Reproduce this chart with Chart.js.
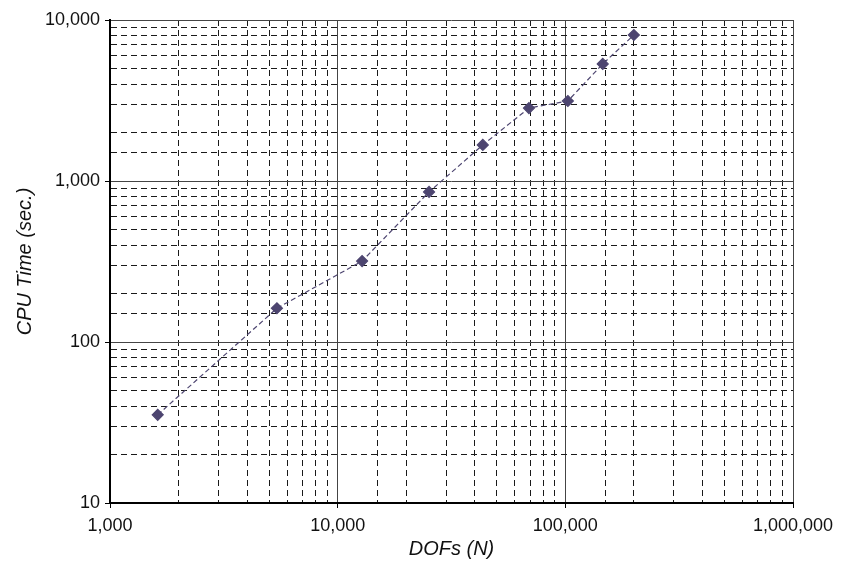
<!DOCTYPE html>
<html>
<head>
<meta charset="utf-8">
<script src="https://cdn.jsdelivr.net/npm/chart.js@4/dist/chart.umd.min.js"></script>
<style>
  body { margin: 0; background: #fff; }
</style>
</head>
<body>
<canvas id="cpuChart" width="854" height="561"></canvas>
<script>
// DOFs vs CPU time
const dofs = [1620, 5410, 12800, 25200, 43400, 69200, 102600, 146000, 200000];
const cpuTime = [35.3, 162, 318, 855, 1675, 2838, 3140, 5335, 8070];

const xRange = [1000, 1000000];
const yRange = [10, 10000];

const FONT = "'Liberation Sans', Arial, Helvetica, sans-serif";

function isDecade(v) {
  const l = Math.log10(v);
  return Math.abs(l - Math.round(l)) < 1e-9;
}

function fmt(v) {
  return isDecade(v) ? Number(v).toLocaleString("en-US") : "";
}

// dashed minor grid on the main axes, solid decade lines on hidden twin axes
const minorGrid = {
  color: (c) => (c.tick && isDecade(c.tick.value) ? "rgba(0,0,0,0)" : "#1a1a1a"),
  tickColor: (c) => (c.tick && isDecade(c.tick.value) ? "#000" : "rgba(0,0,0,0)"),
  lineWidth: 1,
  tickLength: 5,
};

const majorGrid = {
  color: (c) => (c.tick && isDecade(c.tick.value) ? "#444" : "rgba(0,0,0,0)"),
  lineWidth: 1,
  drawTicks: false,
};

const ctx = document.getElementById("cpuChart").getContext("2d");

new Chart(ctx, {
  type: "scatter",
  data: {
    datasets: [
      {
        data: dofs.map((d, i) => ({ x: d, y: cpuTime[i] })),
        showLine: true,
        borderColor: "#4d4570",
        borderWidth: 1.2,
        borderDash: [5, 3],
        pointStyle: "rectRot",
        pointRadius: 5.5,
        pointBackgroundColor: "#4d4570",
        pointBorderColor: "#4d4570",
        xAxisID: "x",
        yAxisID: "y",
      },
    ],
  },
  options: {
    responsive: false,
    animation: false,
    layout: { padding: { top: 20, left: 8, right: 61, bottom: 0 } },
    plugins: {
      legend: { display: false },
      tooltip: { enabled: false },
    },
    scales: {
      x: {
        type: "logarithmic",
        position: "bottom",
        min: xRange[0],
        max: xRange[1],
        grid: minorGrid,
        border: { display: true, color: "#000", width: 2, dash: [6, 4] },
        ticks: {
          autoSkip: false,
          maxRotation: 0,
          padding: 7,
          color: "#111",
          font: { family: FONT, size: 18 },
          callback: (v) => fmt(v),
        },
        title: {
          display: true,
          text: "DOFs (N)",
          color: "#111",
          font: { family: FONT, size: 20, style: "italic" },
          padding: { top: 0, bottom: 0 },
        },
        afterFit: (s) => { s.height = 58; },
      },
      x2: {
        type: "logarithmic",
        position: "bottom",
        min: xRange[0],
        max: xRange[1],
        grid: majorGrid,
        border: { display: false },
        ticks: { display: false, autoSkip: false },
        afterFit: (s) => { s.height = 0; },
      },
      y: {
        type: "logarithmic",
        position: "left",
        min: yRange[0],
        max: yRange[1],
        grid: minorGrid,
        border: { display: true, color: "#000", width: 2, dash: [6, 4] },
        ticks: {
          autoSkip: false,
          padding: 5,
          color: "#111",
          font: { family: FONT, size: 18 },
          callback: (v) => fmt(v),
        },
        title: {
          display: true,
          text: "CPU Time (sec.)",
          color: "#111",
          font: { family: FONT, size: 20, style: "italic" },
          padding: { top: 5, bottom: 0 },
        },
        afterFit: (s) => { s.width = 102; },
      },
      y2: {
        type: "logarithmic",
        position: "left",
        min: yRange[0],
        max: yRange[1],
        grid: majorGrid,
        border: { display: false },
        ticks: { display: false, autoSkip: false },
        afterFit: (s) => { s.width = 0; },
      },
    },
  },
});
</script>
</body>
</html>
